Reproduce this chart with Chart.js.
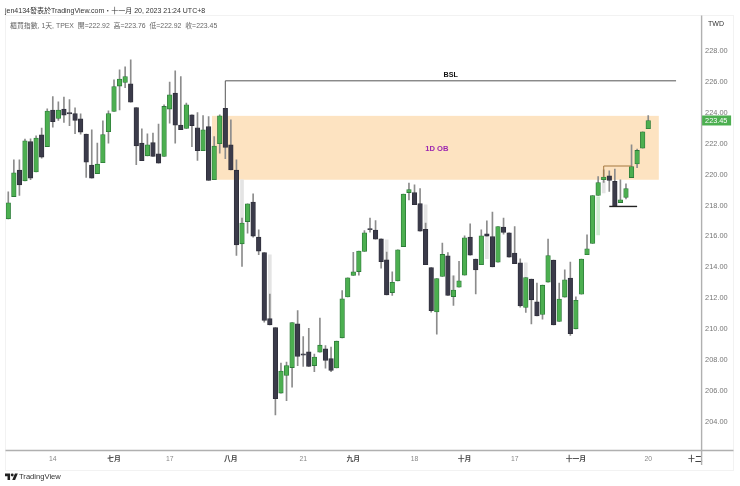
<!DOCTYPE html>
<html>
<head>
<meta charset="utf-8">
<style>
  html, body { margin: 0; padding: 0; background: #fff; width: 740px; height: 486px; overflow: hidden; }
  body { position: relative; font-family: "Liberation Sans", "Noto Sans CJK TC", sans-serif; }
  canvas { position: absolute; left: 0; top: 0; }
  .txt { position: absolute; white-space: pre; }
</style>
<script src="https://cdn.jsdelivr.net/npm/chart.js@4"></script>
</head>
<body>
<canvas id="grafico" width="740" height="486"></canvas>
<div class="txt" style="left:5px;top:5px;font-size:7px;color:#333">jen4134發表於TradingView.com・十一月 20, 2023 21:24 UTC+8</div>
<div class="txt" style="left:10px;top:20px;font-size:6.9px;color:#666">櫃買指數, 1天, TPEX  開=222.92  高=223.76  低=222.92  收=223.45</div>
<div class="txt" style="left:708px;top:20px;font-size:7px;color:#333">TWD</div>
<svg style="position:absolute;left:5px;top:472px" width="13" height="9" viewBox="0 0 36 24"><path fill="#222" d="M14 22H7V11H0V4h14v18zM28 22h-8l7.5-18h8L28 22z"/><circle fill="#222" cx="20" cy="8" r="4"/></svg>
<div class="txt" style="left:19px;top:472px;font-size:7.6px;color:#333">TradingView</div>
<script>
const apertura = [
  217.08,218.52,220.23,219.54,222.09,220.12,222.52,221.76,224.12,223.58,
  224.19,223.97,223.90,223.56,222.57,220.56,220.01,220.71,222.72,224.03,
  225.68,225.91,225.83,224.29,221.98,221.16,222.02,221.29,221.12,224.19,
  225.22,223.15,222.93,223.82,222.98,221.49,223.06,219.61,221.94,224.23,
  221.87,220.23,215.46,216.90,218.16,215.89,214.89,210.62,210.03,205.79,
  206.93,207.44,210.27,208.33,208.46,207.57,208.44,208.65,208.03,207.42,
  209.37,212.02,213.41,213.66,214.96,216.45,216.35,215.78,214.42,212.30,
  213.06,215.28,218.78,218.78,218.07,216.39,213.92,211.05,213.34,214.68,
  212.04,212.65,213.43,215.89,214.47,214.10,216.11,215.93,214.27,216.54,
  216.17,214.86,214.23,211.33,213.17,211.70,210.88,212.98,214.40,210.43,
  212.01,213.24,209.95,212.19,214.75,215.48,218.59,219.61,219.86,219.50,
  218.13,218.46,219.75,220.64,221.66,222.92]
const maximo = [
  218.83,220.90,220.90,222.24,222.26,222.46,222.96,224.21,225.00,224.66,
  224.96,224.81,224.27,223.88,222.57,222.85,221.98,223.43,224.08,226.09,
  226.73,226.93,227.38,224.29,222.91,222.59,222.63,223.22,224.47,225.94,
  226.67,226.30,224.58,223.82,223.97,223.77,223.71,222.41,223.82,224.23,
  223.49,220.90,217.12,218.05,218.70,216.37,214.89,212.20,210.03,207.73,
  207.79,210.36,211.14,209.45,209.99,208.31,210.64,208.87,208.77,209.15,
  212.43,213.26,214.90,214.99,216.32,217.12,216.97,215.78,214.92,213.64,
  215.07,218.68,219.39,219.28,219.04,216.80,213.92,213.21,215.50,214.89,
  213.39,214.33,215.98,216.75,214.47,216.37,216.95,217.51,216.58,217.12,
  216.17,216.58,214.49,213.27,213.17,212.91,212.78,215.76,214.40,212.91,
  213.77,214.27,212.02,214.47,216.04,218.59,219.82,220.25,220.19,220.30,
  219.61,219.35,221.87,221.59,222.72,223.76]
const minimo = [
  217.08,218.52,218.59,219.54,219.61,220.12,221.01,221.76,223.02,223.45,
  223.32,223.11,222.59,222.57,219.76,219.72,220.01,220.71,221.98,224.03,
  224.14,225.57,224.64,220.58,220.84,221.16,221.12,220.69,221.12,223.28,
  221.98,222.85,222.93,221.76,220.86,221.49,219.56,219.61,221.34,220.97,
  220.25,214.70,213.99,216.15,215.89,214.75,210.39,210.21,204.38,205.79,
  205.30,206.17,207.57,207.51,207.51,207.18,208.44,207.40,207.18,207.42,
  209.37,212.02,213.41,213.43,214.96,216.22,215.76,213.88,212.15,212.11,
  213.06,215.28,218.31,217.99,216.28,214.10,211.03,209.61,213.34,212.11,
  211.46,212.65,213.43,214.73,212.22,214.10,215.96,213.97,214.27,216.09,
  214.60,214.18,211.36,211.01,210.27,210.79,210.58,212.98,210.21,210.43,
  212.01,209.52,209.95,212.19,214.75,215.48,218.59,219.43,218.85,217.88,
  218.13,218.36,219.75,220.40,221.66,222.92]
const cierre = [
  218.12,220.06,219.28,222.13,219.72,222.31,221.08,224.06,223.38,224.12,
  223.80,223.88,223.45,222.70,220.75,219.72,220.62,222.54,223.90,225.65,
  226.13,226.30,224.64,221.81,220.84,221.87,221.12,220.69,224.36,225.11,
  223.15,222.85,224.47,223.12,221.50,222.85,219.56,221.79,223.75,221.70,
  220.25,215.38,216.80,218.05,215.96,214.99,210.49,210.21,205.43,207.21,
  207.57,210.36,208.16,208.25,207.51,208.12,208.89,207.90,207.25,209.15,
  211.89,213.26,213.64,214.99,216.17,216.37,215.76,214.31,212.15,212.96,
  215.07,218.68,218.98,217.99,216.28,214.10,211.12,213.21,214.77,212.11,
  212.46,213.06,215.85,214.73,213.77,215.98,215.96,213.97,216.58,216.19,
  214.60,214.18,211.44,213.27,211.83,210.79,212.78,214.70,210.21,211.88,
  213.13,209.63,211.80,214.47,215.14,218.59,219.43,219.78,219.56,217.88,
  218.31,219.04,220.47,221.51,222.72,223.45]

// pale smears left next to some candles in the picture
const sombraPos = [42,47,68,75,80,86,93,106,107]
const sombraAlto = [219.61,214.75,215.72,217.99,213.39,215.98,214.23,218.50,219.54]
const sombraBajo = [216.82,210.66,214.42,216.37,212.48,214.49,213.26,216.04,218.76]

// ticks of both axes
const yTicks = [204,206,208,210,212,214,216,218,220,222,224,226,228]
const xTickPos = [8,19,29,40,53,62,73,82,91,102,115,124]
const xTickTxt = ['14','七月','17','八月','21','九月','18','十月','17','十一月','20','十二月']
const meses = ['七月','八月','九月','十月','十一月','十二月']

// zone and level lines drawn by the analyst (bar index, price)
const zonaOB = {desde: 36.6, hasta: 116.9, arriba: 223.75, abajo: 219.61}
const lineaBSL = {desde: 39, hasta: 120, nivel: 226.02, base: 224.23}
const lineaNaranja = {desde: 107, hasta: 112, nivel: 220.50, base: 219.78}
const lineaNegra = {desde: 108, hasta: 113, nivel: 217.88}

const etiquetas = new Array(125).fill('')
xTickPos.forEach((p, i) => { etiquetas[p] = xTickTxt[i] })

const sombras = apertura.map(() => null)
sombraPos.forEach((p, i) => { sombras[p] = [sombraBajo[i], sombraAlto[i]] })

const VERDE = '#4caf50', VERDE_B = '#2c7a38', OSCURO = '#3b3b4a', OSCURO_B = '#2e2e3a'

const dibujos = {
  id: 'dibujos',
  beforeDatasetsDraw(chart) {
    const {ctx, scales: {x, y}} = chart
    ctx.save()
    ctx.fillStyle = '#fde3c1'
    ctx.fillRect(x.getPixelForValue(zonaOB.desde), y.getPixelForValue(zonaOB.arriba),
      x.getPixelForValue(zonaOB.hasta) - x.getPixelForValue(zonaOB.desde),
      y.getPixelForValue(zonaOB.abajo) - y.getPixelForValue(zonaOB.arriba))
    ctx.restore()
  },
  afterDraw(chart) {
    const {ctx, scales: {x, y}, chartArea: area} = chart
    const escuadra = (l, color, ancho) => {
      ctx.strokeStyle = color
      ctx.lineWidth = ancho
      ctx.beginPath()
      if (l.base !== undefined) {
        ctx.moveTo(x.getPixelForValue(l.desde), y.getPixelForValue(l.base))
        ctx.lineTo(x.getPixelForValue(l.desde), y.getPixelForValue(l.nivel))
      } else {
        ctx.moveTo(x.getPixelForValue(l.desde), y.getPixelForValue(l.nivel))
      }
      ctx.lineTo(x.getPixelForValue(l.hasta), y.getPixelForValue(l.nivel))
      ctx.stroke()
    }
    ctx.save()
    escuadra(lineaBSL, '#555', 1)
    escuadra(lineaNaranja, '#a5793f', 1)
    escuadra(lineaNegra, '#222', 1.4)

    ctx.textAlign = 'center'
    ctx.textBaseline = 'middle'
    ctx.font = 'bold 7.2px "Liberation Sans"'
    ctx.fillStyle = '#111'
    ctx.fillText('BSL', x.getPixelForValue(79.5), y.getPixelForValue(lineaBSL.nivel) - 6)
    ctx.font = 'bold 7.6px "Liberation Sans"'
    ctx.fillStyle = '#9c27b0'
    ctx.fillText('1D OB', x.getPixelForValue(77), y.getPixelForValue(221.62))

    // right pane covers the last month label
    ctx.fillStyle = '#fff'
    ctx.fillRect(area.right + 1, area.bottom + 1, 38, 18)

    // frame
    ctx.strokeStyle = '#f2f2f2'
    ctx.lineWidth = 1
    ctx.strokeRect(5.5, 15.5, 728, 455)
    ctx.strokeStyle = '#b0b0b0'
    ctx.lineWidth = 1.4
    ctx.beginPath()
    ctx.moveTo(5.5, area.bottom + 0.5); ctx.lineTo(733.5, area.bottom + 0.5)
    ctx.moveTo(area.right + 0.5, 15.5); ctx.lineTo(area.right + 0.5, 465)
    ctx.stroke()

    // last price tag
    const ult = cierre[cierre.length - 1]
    const py = y.getPixelForValue(ult)
    ctx.fillStyle = VERDE
    ctx.fillRect(area.right + 1, py - 5, 29, 10)
    ctx.fillStyle = '#fff'
    ctx.font = '7.3px "Liberation Sans"'
    ctx.textAlign = 'left'
    ctx.fillText(ult.toFixed(2), area.right + 4, py + 0.5)
    ctx.restore()
  }
}

new Chart(document.getElementById('grafico'), {
  type: 'bar',
  plugins: [dibujos],
  data: {
    labels: etiquetas,
    datasets: [
      {
        label: 'sombra',
        data: sombras,
        backgroundColor: sombras.map((_, i) => i === 106 ? '#cfeed2' : '#e4e4e4'),
        barThickness: 3,
        grouped: false,
        order: 3
      },
      {
        label: 'mecha',
        data: apertura.map((_, i) => [minimo[i], maximo[i]]),
        backgroundColor: '#8c8c8c',
        barThickness: 1,
        grouped: false,
        order: 2
      },
      {
        label: 'cuerpo',
        data: apertura.map((o, i) => [o, cierre[i]]),
        backgroundColor: apertura.map((o, i) => cierre[i] >= o ? VERDE : OSCURO),
        borderColor: apertura.map((o, i) => cierre[i] >= o ? VERDE_B : OSCURO_B),
        borderWidth: 0.8,
        borderSkipped: false,
        barThickness: 4.6,
        grouped: false,
        order: 1
      }
    ]
  },
  options: {
    responsive: false,
    animation: false,
    devicePixelRatio: 1,
    layout: {padding: {left: 5.5, top: 41, right: 0, bottom: 0}},
    plugins: {legend: {display: false}, tooltip: {enabled: false}},
    scales: {
      x: {
        grid: {display: false, drawTicks: false},
        border: {display: false},
        afterFit(s) { s.height = 36 },
        ticks: {
          autoSkip: false,
          maxRotation: 0,
          padding: 5,
          color: c => meses.includes(c.tick.label) ? '#444' : '#888',
          font: c => ({family: '"Liberation Sans", "Noto Sans CJK TC"', size: 6.8, weight: meses.includes(c.tick.label) ? 'bold' : 'normal'})
        }
      },
      y: {
        position: 'right',
        min: 202.1,
        max: 228.6,
        grid: {display: false, drawTicks: false},
        border: {display: false},
        afterFit(s) { s.width = 38.9 },
        afterBuildTicks(s) { s.ticks = yTicks.map(v => ({value: v})) },
        ticks: {
          padding: 4,
          labelOffset: 1,
          color: '#777',
          font: {family: '"Liberation Sans"', size: 7.4},
          callback: v => v.toFixed(2)
        }
      }
    }
  }
})
</script>
</body>
</html>
